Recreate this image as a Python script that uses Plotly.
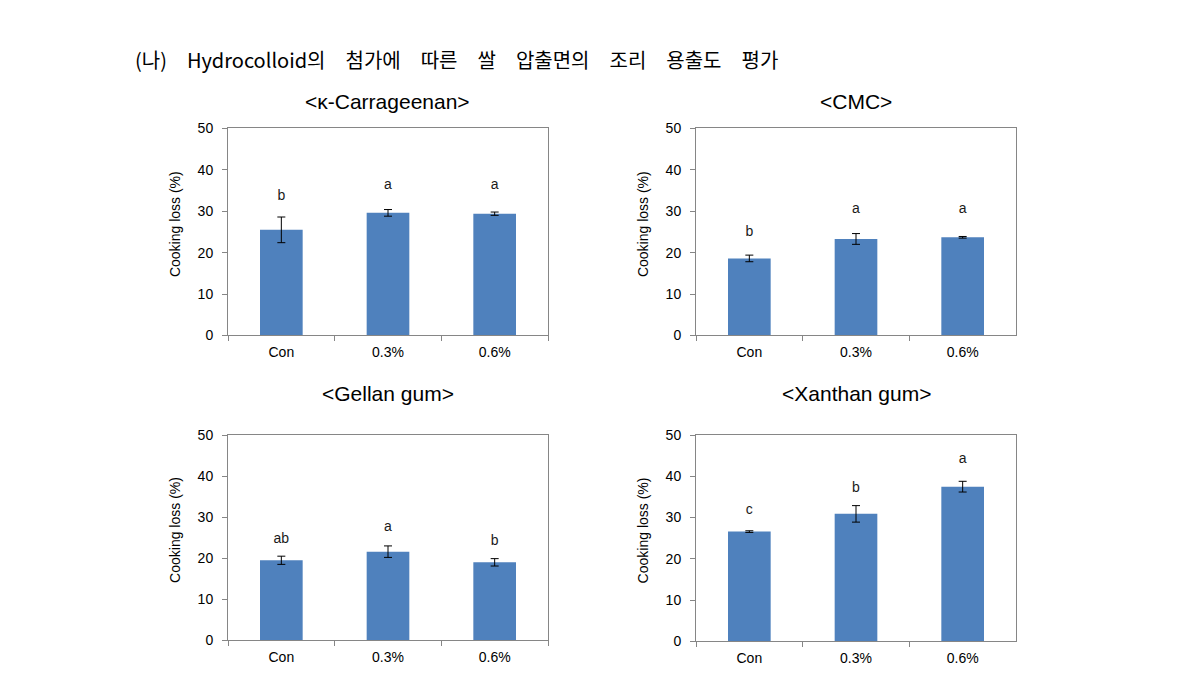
import plotly.graph_objects as go

categories = ["Con", "0.3%", "0.6%"]
y_ticks = [0, 10, 20, 30, 40, 50]

panel_titles = ["<κ-Carrageenan>", "<CMC>", "<Gellan gum>", "<Xanthan gum>"]

kappa_values = [25.5, 29.6, 29.4]
kappa_errors = [3.1, 0.8, 0.4]
kappa_letters = ["b", "a", "a"]
kappa_letter_y = [33.5, 36.2, 36.2]

cmc_values = [18.6, 23.3, 23.7]
cmc_errors = [0.8, 1.3, 0.2]
cmc_letters = ["b", "a", "a"]
cmc_letter_y = [24.9, 30.4, 30.4]

gellan_values = [19.5, 21.6, 19.0]
gellan_errors = [1.0, 1.4, 0.9]
gellan_letters = ["ab", "a", "b"]
gellan_letter_y = [24.5, 27.6, 24.1]

xanthan_values = [26.6, 30.9, 37.5]
xanthan_errors = [0.2, 2.0, 1.3]
xanthan_letters = ["c", "b", "a"]
xanthan_letter_y = [31.6, 37.0, 44.1]

y_title = "Cooking loss (%)"
header = "(나)\u3000Hydrocolloid의\u3000첨가에\u3000따른\u3000쌀\u3000압출면의\u3000조리\u3000용출도\u3000평가"

W, H = 1190, 695
OFF = 8  # page body margin in the browser
BAR_COLOR = "#4F81BD"
AXIS_COLOR = "#868686"
FONT = "Liberation Sans, Arial, sans-serif"


def xp(px):
    return (px - OFF) / W


def yp(py):
    return 1 - (py - OFF) / H


panels = [
    (kappa_values, kappa_errors, kappa_letters, kappa_letter_y),
    (cmc_values, cmc_errors, cmc_letters, cmc_letter_y),
    (gellan_values, gellan_errors, gellan_letters, gellan_letter_y),
    (xanthan_values, xanthan_errors, xanthan_letters, xanthan_letter_y),
]

# screen-pixel boxes of the plot areas (left, right, top, bottom) and title centre y
boxes = [
    (228, 548, 123, 335, 96),
    (696, 1016, 123, 335, 96),
    (228, 548, 437, 647, 394),
    (696, 1016, 437, 648, 394),
]

fig = go.Figure()
annotations = []

for i, ((vals, errs, letters, ly), box) in enumerate(zip(panels, boxes)):
    n = i + 1
    xa = "x" if n == 1 else f"x{n}"
    ya = "y" if n == 1 else f"y{n}"
    l, r, t, b, ty = box
    fig.add_trace(go.Bar(
        x=categories, y=vals, xaxis=xa, yaxis=ya,
        marker=dict(color=BAR_COLOR, line=dict(width=0)),
        width=0.4,
        error_y=dict(type="data", array=errs, visible=True,
                     color="#000000", thickness=1, width=4),
        showlegend=False, hoverinfo="skip",
    ))
    fig.add_trace(go.Scatter(
        x=categories, y=ly, xaxis=xa, yaxis=ya, mode="text",
        text=letters, textposition="middle center",
        textfont=dict(family=FONT, size=14, color="#1a1a1a"),
        showlegend=False, hoverinfo="skip",
    ))
    axis_common = dict(showline=True, linecolor=AXIS_COLOR, linewidth=1,
                       mirror=True, showgrid=False, zeroline=False,
                       ticks="outside", ticklen=5, tickcolor=AXIS_COLOR,
                       tickfont=dict(family=FONT, size=14, color="#000000"))
    fig.update_layout(**{
        ("xaxis" if n == 1 else f"xaxis{n}"): dict(
            domain=[xp(l), xp(r)], anchor=ya, type="category",
            range=[-0.5, 2.5], tickson="boundaries",
            ticklabelstandoff=4, **axis_common),
        ("yaxis" if n == 1 else f"yaxis{n}"): dict(
            domain=[yp(b), yp(t)], anchor=xa, range=[0, 50],
            tickvals=y_ticks, ticklabelstandoff=6, **axis_common),
    })
    annotations.append(dict(
        text=panel_titles[i], x=xp((l + r) / 2), y=yp(ty),
        xref="paper", yref="paper", showarrow=False,
        xanchor="center", yanchor="middle",
        font=dict(family=FONT, size=21, color="#000000")))
    annotations.append(dict(
        text=y_title, x=xp(l - 53), y=yp((t + b) / 2 - 8),
        xref="paper", yref="paper", showarrow=False, textangle=-90,
        xanchor="center", yanchor="middle",
        font=dict(family=FONT, size=14, color="#000000")))

annotations.append(dict(
    text=header, x=xp(133), y=yp(53), xref="paper", yref="paper",
    showarrow=False, xanchor="left", yanchor="middle",
    font=dict(family="Noto Sans CJK KR", size=20, color="#000000")))

fig.update_layout(
    width=W, height=H,
    margin=dict(l=0, r=0, t=0, b=0),
    paper_bgcolor="white", plot_bgcolor="white",
    annotations=annotations,
    bargap=0.6,
)

fig.write_html("out.html")
